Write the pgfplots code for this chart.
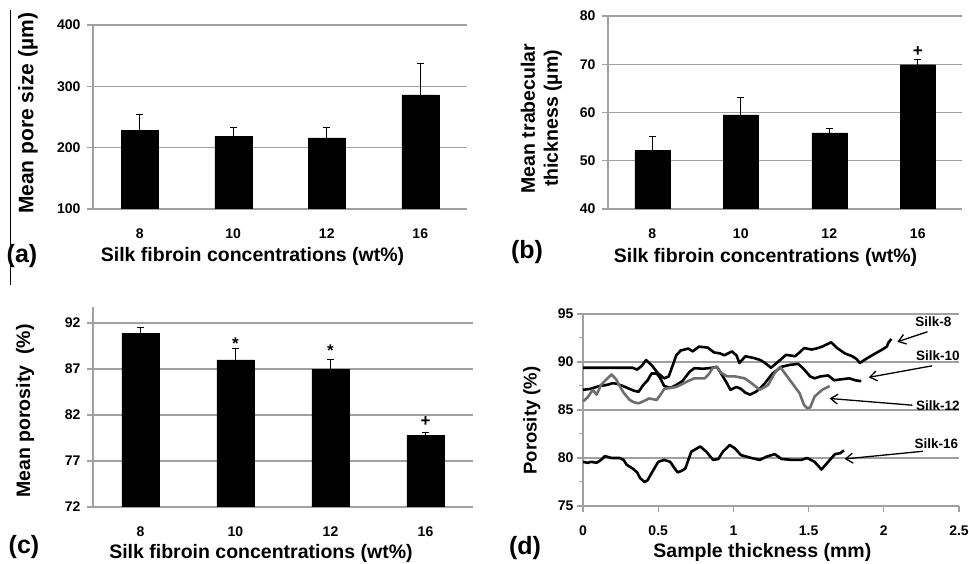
\documentclass[border=0pt]{standalone}
\usepackage{pgfplots}
\pgfplotsset{compat=1.18}
\usepackage{fontspec}
\setmainfont{Liberation Sans}
\usetikzlibrary{arrows.meta}
\definecolor{gridgray}{HTML}{A0A0A0}
\definecolor{silkgray}{HTML}{6E6E6E}
\newcommand{\tickfont}{\fontsize{14}{16}\selectfont\bfseries}
\newcommand{\labfont}{\fontsize{19.5}{23}\selectfont\bfseries}
\pgfplotsset{
  common/.style={
    scale only axis,
    axis x line*=bottom, axis y line*=left,
    axis line style={draw=gridgray, line width=1.2pt},
    ymajorgrids, grid style={gridgray, line width=1.2pt},
    tick align=outside, major tick length=6pt,
    tick style={gridgray, line width=1.2pt},
    tick label style={font=\tickfont},
    /pgf/number format/assume math mode=true,
    xlabel style={font=\labfont}, ylabel style={font=\labfont},
    xticklabel style={yshift=-10pt},
  },
  barstyle/.style={
    common,
    xmin=-0.5, xmax=3.5, xtick={0,1,2,3}, xticklabels={8,10,12,16},
    major x tick style={draw=none},
    yticklabel style={xshift=-3pt},
    ybar, bar width=37pt,
  },
  errbar/.style={fill=black, draw=black,
    error bars/.cd, y dir=plus, y explicit,
    error bar style={black, line width=1pt},
    error mark options={rotate=90, black, mark size=3.5pt, line width=1pt}},
}
\begin{document}
\begin{tikzpicture}[x=1pt,y=1pt]
\useasboundingbox (0,0) rectangle (969,564);
\draw[black, line width=1pt] (10,554) -- (10,279);

% (a)
\begin{axis}[barstyle, at={(93pt,355pt)}, anchor=south west, width=374pt, height=184pt,
  ymin=100, ymax=400, ytick={100,200,300,400},
  xlabel={Silk fibroin concentrations (wt\%)}, ylabel={Mean pore size (µm)},
  xlabel style={at={(axis description cs:0.4265,-0.26)}, anchor=center},
  ylabel style={at={(axis description cs:-0.174,0.52)}, anchor=center, font=\fontsize{21}{23}\selectfont\bfseries}]
\addplot[errbar] coordinates {(0,228) +- (0,26) (1,218) +- (0,14.6) (2,216) +- (0,17.5) (3,286) +- (0,51.5)};
\end{axis}

% (b)
\begin{axis}[barstyle, at={(608pt,355pt)}, anchor=south west, width=354pt, height=193pt,
  ymin=40, ymax=80, ytick={40,50,...,80}, bar width=35pt,
  xlabel={Silk fibroin concentrations (wt\%)}, ylabel={Mean trabecular\\thickness (µm)},
  xlabel style={at={(axis description cs:0.445,-0.249)}, anchor=center},
  ylabel style={at={(axis description cs:-0.188,0.469)}, anchor=center, align=center}]
\addplot[errbar] coordinates {(0,52.1) +- (0,3.0) (1,59.5) +- (0,3.7) (2,55.8) +- (0,0.8) (3,69.9) +- (0,1.0)};
\node[font=\fontsize{17}{17}\selectfont\bfseries] at (axis cs:3,72.6) {+};
\end{axis}

% (c)
\begin{axis}[barstyle, at={(93pt,57pt)}, anchor=south west, width=380pt, height=200pt,
  ymin=72, ymax=93.74, ytick={72,77,...,92}, bar width=37.5pt,
  xlabel={Silk fibroin concentrations (wt\%)}, ylabel={Mean porosity\ \ (\%)},
  xlabel style={at={(axis description cs:0.442,-0.23)}, anchor=center},
  ylabel style={at={(axis description cs:-0.179,0.48)}, anchor=center}]
\addplot[errbar] coordinates {(0,90.9) +- (0,0.6) (1,88.0) +- (0,1.2) (2,87.0) +- (0,1.05) (3,79.75) +- (0,0.3)};
\node[font=\fontsize{17}{17}\selectfont\bfseries] at (axis cs:1,89.8) {*};
\node[font=\fontsize{17}{17}\selectfont\bfseries] at (axis cs:2,89.0) {*};
\node[font=\fontsize{17}{17}\selectfont\bfseries] at (axis cs:3,81.3) {+};
\end{axis}

% (d)
\begin{axis}[common, at={(583pt,58pt)}, anchor=south west, width=376pt, height=192pt,
  xmin=0, xmax=2.5, xtick={0,0.5,...,2.5}, xticklabels={0,0.5,1,1.5,2,2.5},
  ymin=75, ymax=95, ytick={75,80,...,95}, minor ytick={77.5,82.5,87.5,92.5},
  minor tick length=4pt, minor tick style={gridgray, line width=1pt},
  clip=false,
  xlabel={Sample thickness (mm)}, ylabel={Porosity (\%)},
  xlabel style={at={(axis description cs:0.477,-0.24)}, anchor=center},
  ylabel style={at={(axis description cs:-0.136,0.445)}, anchor=center, font=\fontsize{18.5}{21}\selectfont\bfseries}]
\addplot[black, line width=2.6pt, line join=round] coordinates {
(0,89.4) (0.1,89.4) (0.2,89.4) (0.33,89.4) (0.36,89.2) (0.39,89.6) (0.42,90.2) (0.46,89.6) (0.50,88.8) (0.54,88.3) (0.57,88.5) (0.60,89.8) (0.62,90.7) (0.65,91.2) (0.70,91.4) (0.73,91.1) (0.77,91.6) (0.83,91.5) (0.87,91.0) (0.91,90.9) (0.94,90.7) (0.99,91.1) (1.02,90.7) (1.04,89.9) (1.08,90.6) (1.14,90.4) (1.18,90.2) (1.21,89.9) (1.25,89.4) (1.28,89.8) (1.31,90.2) (1.35,90.75) (1.41,90.6) (1.44,91.0) (1.47,91.45) (1.52,91.3) (1.55,91.4) (1.59,91.6) (1.65,92.05) (1.69,91.45) (1.74,90.9) (1.79,90.6) (1.82,90.3) (1.84,89.9) (1.89,90.4) (1.95,90.95) (1.99,91.3) (2.02,91.6) (2.03,92.0) (2.05,92.4)};
\addplot[black, line width=2.6pt, line join=round] coordinates {
(0,87.1) (0.05,87.2) (0.11,87.5) (0.155,87.6) (0.2,87.8) (0.23,87.7) (0.265,87.5) (0.31,87.2) (0.34,87.0) (0.37,86.9) (0.40,87.6) (0.43,88.1) (0.455,88.8) (0.49,88.8) (0.51,88.4) (0.54,87.5) (0.58,87.3) (0.62,87.6) (0.66,88.0) (0.71,89.0) (0.74,89.35) (0.80,89.3) (0.86,89.4) (0.89,89.5) (0.93,88.5) (0.96,87.7) (0.98,87.1) (1.02,87.4) (1.05,87.2) (1.08,86.8) (1.11,86.6) (1.15,86.9) (1.18,87.3) (1.21,87.8) (1.26,88.8) (1.32,89.5) (1.375,89.7) (1.43,89.8) (1.46,89.4) (1.51,88.5) (1.54,88.3) (1.58,88.5) (1.63,88.6) (1.67,88.1) (1.72,88.2) (1.77,88.3) (1.81,88.1) (1.85,88.0)};
\addplot[silkgray, line width=2.6pt, line join=round] coordinates {
(0,85.9) (0.03,86.3) (0.065,87.1) (0.09,86.6) (0.12,87.6) (0.15,88.1) (0.19,88.7) (0.22,88.2) (0.24,87.6) (0.27,86.8) (0.31,86.05) (0.34,85.8) (0.37,85.7) (0.40,85.9) (0.44,86.2) (0.49,86.05) (0.52,86.7) (0.54,87.2) (0.58,87.3) (0.62,87.4) (0.66,87.7) (0.69,87.95) (0.74,88.3) (0.81,88.3) (0.84,88.8) (0.86,89.35) (0.89,89.5) (0.92,88.85) (0.96,88.5) (1.01,88.5) (1.075,88.3) (1.12,87.8) (1.175,87.1) (1.23,87.6) (1.275,88.85) (1.31,89.5) (1.35,88.65) (1.40,87.6) (1.44,86.75) (1.47,85.5) (1.49,85.2) (1.51,85.25) (1.54,86.4) (1.59,87.1) (1.64,87.5)};
\addplot[black, line width=2.6pt, line join=round] coordinates {
(0,79.6) (0.03,79.5) (0.056,79.6) (0.09,79.5) (0.12,79.8) (0.145,80.2) (0.19,80.0) (0.245,80.0) (0.27,79.8) (0.29,79.3) (0.33,78.9) (0.36,78.5) (0.38,77.9) (0.41,77.5) (0.43,77.7) (0.455,78.4) (0.5,79.6) (0.54,79.8) (0.58,79.6) (0.61,78.9) (0.63,78.5) (0.66,78.7) (0.68,78.9) (0.72,80.66) (0.78,81.2) (0.82,80.66) (0.865,79.8) (0.9,79.9) (0.93,80.66) (0.976,81.35) (1.01,81.0) (1.05,80.3) (1.12,80.0) (1.175,79.8) (1.22,80.14) (1.275,80.4) (1.32,79.9) (1.39,79.8) (1.45,79.8) (1.49,80.0) (1.54,79.6) (1.585,78.8) (1.63,79.6) (1.675,80.4) (1.71,80.5) (1.735,80.8)};
\tikzset{silklab/.style={font=\fontsize{13.5}{15}\selectfont\bfseries},
         silkarr/.style={black, line width=1.3pt, -{Straight Barb[length=7pt,width=10pt]}}}
\node[silklab] at (axis cs:2.33,94.2) {Silk-8};
\draw[silkarr] (axis cs:2.29,93.15) -- (axis cs:2.09,92.1);
\node[silklab] at (axis cs:2.36,90.65) {Silk-10};
\draw[silkarr] (axis cs:2.32,89.6) -- (axis cs:1.90,88.4);
\node[silklab] at (axis cs:2.36,85.45) {Silk-12};
\draw[silkarr] (axis cs:2.19,85.5) -- (axis cs:1.64,86.2);
\node[silklab] at (axis cs:2.35,81.5) {Silk-16};
\draw[silkarr] (axis cs:2.26,80.7) -- (axis cs:1.74,79.9);
\end{axis}

\node[font=\fontsize{25}{25}\selectfont\bfseries] at (22,308) {(a)};
\node[font=\fontsize{25}{25}\selectfont\bfseries] at (527,312) {(b)};
\node[font=\fontsize{25}{25}\selectfont\bfseries] at (24,17) {(c)};
\node[font=\fontsize{25}{25}\selectfont\bfseries] at (525,16) {(d)};
\end{tikzpicture}
\end{document}
